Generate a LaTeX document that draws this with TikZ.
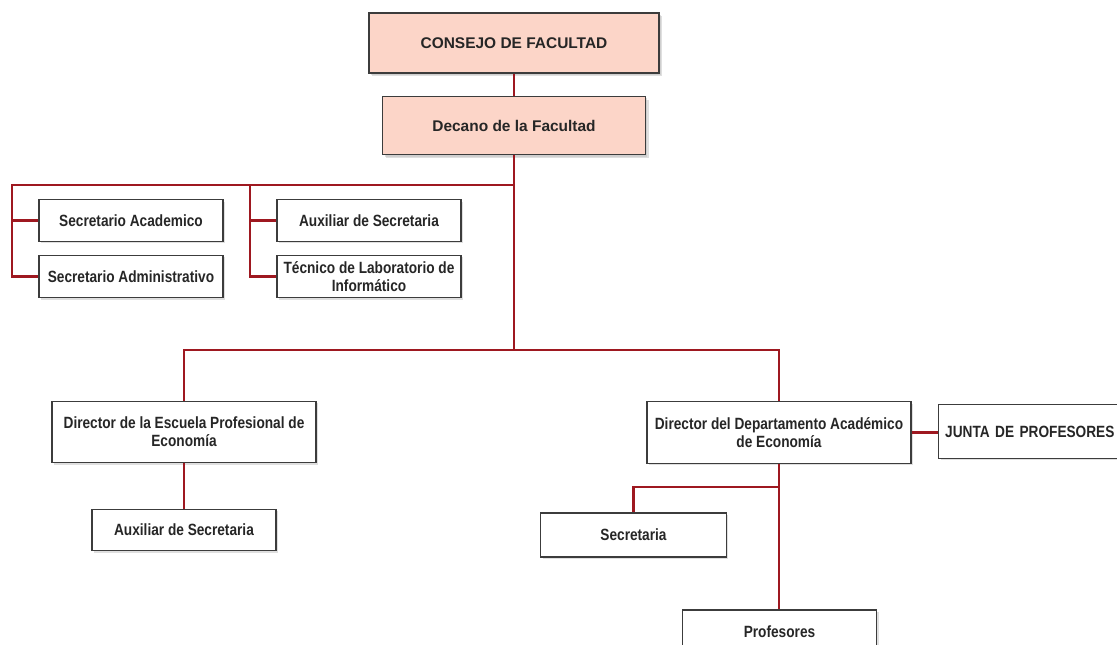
\documentclass[tikz,border=0pt]{standalone}
\usepackage{fontspec}
\setmainfont{Liberation Sans}
\newfontfamily\narrowfont{Liberation Sans}[FakeStretch=0.84]
\usetikzlibrary{positioning,shadows,calc}
\definecolor{orgRed}{HTML}{9E1820}
\definecolor{orgPink}{HTML}{FCD5C8}
\definecolor{orgEdge}{HTML}{3C3C3C}

\begin{document}
\begin{tikzpicture}[
  x=0.75pt, y=-0.75pt,
  every node/.style={font=\narrowfont\bfseries\fontsize{12.2}{13.6}\selectfont, text=black!85},
  unit/.style={rectangle, draw=orgEdge, line width=0.8pt, fill=white, align=center,
               inner sep=2pt,
               drop shadow={shadow xshift=1.6pt, shadow yshift=-1.6pt, fill=black!25}},
  head/.style={unit, fill=orgPink, font=\bfseries\fontsize{11.6}{13}\selectfont,
               drop shadow={shadow xshift=2.6pt, shadow yshift=-2.6pt, fill=black!25}},
  link/.style={draw=orgRed, line width=2.2pt}
]
  \useasboundingbox (0,0) rectangle (1117,644);
  \clip (0,0) rectangle (1117,644);

  \node[head, minimum width=217.5pt, minimum height=45pt] (consejo) at (514,43) {CONSEJO DE FACULTAD};
  \node[head, minimum width=197pt, minimum height=44pt] (decano) at (514,125.5) {Decano de la Facultad};

  \node[unit, minimum width=138pt, minimum height=31pt] (secAcad) at (131,220.5) {Secretario Academico};
  \node[unit, minimum width=138pt, minimum height=32pt] (secAdm) at (131,276.5) {Secretario Administrativo};
  \node[unit, minimum width=138pt, minimum height=31pt] (auxSec) at (369,220.5) {Auxiliar de Secretaria};
  \node[unit, minimum width=138pt, minimum height=32pt] (tecnico) at (369,276.5) {Técnico de Laboratorio de\\ Informático};

  \node[unit, minimum width=198pt, minimum height=46pt] (dirEsc) at (184,432) {Director de la Escuela Profesional de\\ Economía};
  \node[unit, minimum width=138pt, minimum height=31pt] (auxEsc) at (184,530) {Auxiliar de Secretaria};

  \node[unit, minimum width=198pt, minimum height=46pt] (dirDep) at (779,432.5) {Director del Departamento Académico\\ de Economía};
  \node[unit, minimum height=40pt, text width=140pt, inner xsep=5pt, align=left, anchor=west] (junta) at (938,431.5) {JUNTA DE PROFESORES};
  \node[unit, minimum width=139pt, minimum height=33pt] (secDep) at (633.5,535) {Secretaria};
  \node[unit, minimum width=146pt, minimum height=33pt] (profes) at (779.5,632) {Profesores};

  \coordinate (topBar) at (514,185);
  \coordinate (lowBar) at (514,350);
  \coordinate (leftSpine) at (12,185);
  \coordinate (midSpine) at (250,185);
  \coordinate (depFork) at (779,487);

  \draw[link] (consejo) -- (decano);
  \draw[link] (decano.south) -- (lowBar);
  \draw[link] (topBar) -- (leftSpine) |- (secAdm.west);
  \draw[link] (leftSpine |- secAcad) -- (secAcad.west);
  \draw[link] (midSpine) |- (tecnico.west);
  \draw[link] (midSpine |- auxSec) -- (auxSec.west);
  \draw[link] (dirEsc.north) |- (lowBar) -| (dirDep.north);
  \draw[link] (dirEsc) -- (auxEsc);
  \draw[link] (dirDep.east) -- (dirDep.east -| junta.west);
  \draw[link] (dirDep.south) -- (dirDep.south |- profes.north);
  \draw[link] (depFork) -| (secDep.north);
\end{tikzpicture}
\end{document}
